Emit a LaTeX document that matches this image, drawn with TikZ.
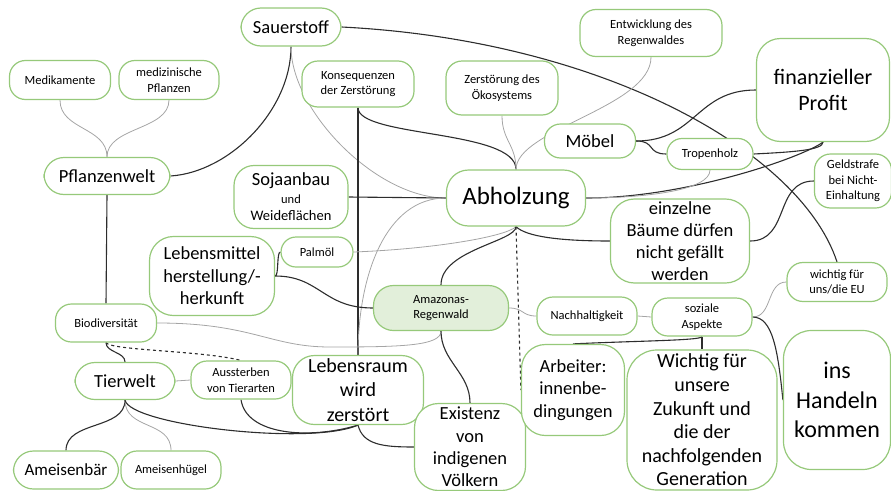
\documentclass[tikz,border=0pt]{standalone}
\usepackage{fontspec}
\setmainfont{Carlito}
\usetikzlibrary{backgrounds}

\definecolor{kgruen}{RGB}{150,201,122}
\definecolor{kfuell}{RGB}{226,239,218}
\definecolor{klinie}{RGB}{45,45,45}
\definecolor{kgrau}{RGB}{165,165,165}

\begin{document}
\begin{tikzpicture}[x=1pt, y=-1pt,
	blase/.style = {draw=kgruen, line width=1.2pt, fill=white, rounded corners=16pt, align=center, inner sep=1pt},
	klein/.style = {blase, font=\fontsize{12.5}{15.5}\selectfont},
	mittel/.style = {blase, rounded corners=20pt, font=\fontsize{18.5}{22.4}\selectfont},
	haupt/.style = {draw=klinie, line width=1.1pt},
	neben/.style = {draw=kgrau, line width=0.8pt},
	wh/.style 2 args = {minimum width=#1pt, minimum height=#2pt}]

	\useasboundingbox (0,0) rectangle (891,490);

	% obere Reihe
	\node[mittel, wh={100}{38}] (sauer) at (291,27) {Sauerstoff};
	\node[klein, wh={101}{39}] (medik) at (60,80) {Medikamente};
	\node[klein, wh={100}{39}] (medpfl) at (169,80) {medizinische\\Pflanzen};
	\node[mittel, wh={126}{37}] (pflanz) at (107,176) {Pflanzenwelt};
	\node[klein, wh={112}{46}] (konseq) at (358,84) {Konsequenzen\\der Zerstörung};
	\node[klein, wh={112}{54}] (oeko) at (502,88) {Zerstörung des\\Ökosystems};
	\node[klein, wh={142}{47}] (entw) at (651,33) {Entwicklung des\\Regenwaldes};
	\node[mittel, wh={133}{103}, font=\fontsize{22}{26.8}\selectfont, rounded corners=24pt] (profit) at (823,90) {finanzieller\\Profit};
	\node[mittel, wh={91}{34}, rounded corners=16pt] (moebel) at (590,141) {Möbel};
	\node[klein, wh={86}{31}, rounded corners=15pt] (tropen) at (710,154) {Tropenholz};
	\node[klein, wh={77}{54}] (geld) at (853,181) {Geldstrafe\\bei Nicht-\\Einhaltung};

	% Mitte
	\node[mittel, wh={114}{63}, font=\fontsize{14.5}{17.5}\selectfont] (soja) at (291,197) {{\fontsize{18.5}{22}\selectfont Sojaanbau}\\{\fontsize{12.5}{14}\selectfont und}\\Weideflächen};
	\node[mittel, wh={139}{56}, font=\fontsize{25}{30}\selectfont, rounded corners=22pt] (abholz) at (516,198) {Abholzung};
	\node[mittel, wh={139}{84}, font=\fontsize{18.5}{22}\selectfont, rounded corners=24pt] (baeume) at (680,241) {einzelne\\Bäume dürfen\\nicht gefällt\\werden};
	\node[mittel, wh={125}{79}, rounded corners=24pt] (lebensm) at (212,276) {Lebensmittel\\herstellung/-\\herkunft};
	\node[klein, wh={72}{30}, rounded corners=15pt] (palm) at (317,252) {Palmöl};
	\node[klein, wh={135}{45}, fill=kfuell, rounded corners=20pt] (amazon) at (441,308) {Amazonas-\\Regenwald};
	\node[klein, wh={100}{38}] (nachh) at (587,316) {Nachhaltigkeit};
	\node[klein, wh={100}{38}] (sozial) at (702,317) {soziale\\Aspekte};
	\node[klein, wh={100}{39}] (eu) at (837,282) {wichtig für\\uns/die EU};
	\node[klein, wh={101}{38}] (biodiv) at (106,323) {Biodiversität};

	% untere Reihe
	\node[mittel, wh={100}{37}] (tierw) at (125,381) {Tierwelt};
	\node[klein, wh={100}{38}] (ausst) at (241,380) {Aussterben\\von Tierarten};
	\node[mittel, wh={131}{69}, font=\fontsize{20}{24.4}\selectfont, rounded corners=22pt] (lebensr) at (358,390) {Lebensraum\\wird\\zerstört};
	\node[mittel, wh={111}{87}, rounded corners=24pt] (exist) at (470,447) {Existenz\\von\\indigenen\\Völkern};
	\node[mittel, wh={103}{91}, rounded corners=24pt] (arbeit) at (573,390) {Arbeiter:\\innenbe-\\dingungen};
	\node[mittel, wh={150}{140}, font=\fontsize{20}{23.6}\selectfont, rounded corners=30pt] (wichtig) at (702,420) {Wichtig für\\unsere\\Zukunft und\\die der\\nachfolgenden\\Generation};
	\node[mittel, wh={107}{139}, font=\fontsize{24}{29.3}\selectfont, rounded corners=28pt] (handeln) at (837,400) {ins\\Handeln\\kommen};
	\node[mittel, wh={105}{38}, font=\fontsize{17}{20}\selectfont] (baer) at (66,470) {Ameisenbär};
	\node[klein, wh={100}{38}] (huegel) at (171,470) {Ameisenhügel};

	\begin{scope}[on background layer]
	\draw[neben] (medik.south) .. controls +(0,30) and +(0,-30) .. (pflanz.north);
	\draw[neben] (medpfl.south) .. controls +(0,30) and +(0,-30) .. (pflanz.north);
	\draw[haupt] (pflanz.east) .. controls (230,172) and (291,110) .. (sauer.south);
	\draw[haupt] (pflanz.south) -- (biodiv.north);
	\draw[neben] (sauer.south) .. controls +(0,64) and +(-70,0) .. (abholz.west);
	\draw[haupt] (sauer.east) .. controls (600,40) and (800,150) .. (eu.north);
	\draw[haupt] (konseq.south) -- (lebensr.north);
	\draw[haupt] (konseq.south) .. controls +(0,30) and +(0,-40) .. (abholz.north);
	\draw[neben] (oeko.south) .. controls +(0,25) and +(0,-25) .. (abholz.north);
	\draw[neben] (entw.south) .. controls +(0,50) and +(0,-40) .. (abholz.north);
	\draw[haupt] (moebel.east) .. controls +(60,0) and +(-60,0) .. (profit.west);
	\draw[haupt] (moebel.east) .. controls +(20,0) and +(-20,0) .. (tropen.west);
	\draw[haupt] (tropen.east) .. controls +(40,-2) and +(0,8) .. (profit.south);
	\draw[haupt] (abholz.east) .. controls +(100,0) and +(-20,15) .. (profit.south);
	\draw[neben] (tropen.south) .. controls +(0,20) and +(60,0) .. (abholz.east);
	\draw[haupt] (soja.east) -- (abholz.west);
	\draw[haupt] (abholz.south) .. controls +(10,10) and +(-50,0) .. (baeume.west);
	\draw[haupt] (baeume.east) .. controls +(40,0) and +(-40,0) .. (geld.west);
	\draw[neben] (palm.east) .. controls +(80,-3) and +(-10,10) .. (abholz.south);
	\draw[neben] (abholz.west) .. controls +(-60,0) and +(0,-80) .. (lebensr.north);
	\draw[haupt] (abholz.south) .. controls +(0,15) and +(0,-35) .. (amazon.north);
	\draw[haupt, dashed] (abholz.south) -- (arbeit.west);
	\draw[haupt] (lebensm.east) .. controls +(45,0) and +(-50,0) .. (amazon.west);
	\draw[haupt] (lebensm.east) .. controls +(4,0) and +(-4,0) .. (palm.west);
	\draw[neben] (biodiv.east) .. controls +(95,0) and +(-60,0) .. (330,347) .. controls +(70,0) and +(0,15) .. (amazon.south);
	\draw[haupt] (biodiv.south) .. controls +(0,10) and +(0,-10) .. (tierw.north);
	\draw[haupt, dashed] (biodiv.south) .. controls +(5,8) and +(-40,-10) .. (ausst.north);
	\draw[neben] (tierw.east) -- (ausst.west);
	\draw[haupt] (tierw.south) .. controls +(0,30) and +(0,-30) .. (baer.north);
	\draw[neben] (tierw.south) .. controls +(0,30) and +(0,-30) .. (huegel.north);
	\draw[haupt] (tierw.south) .. controls +(5,25) and +(-48,21) .. (lebensr.south);
	\draw[haupt] (ausst.south) .. controls +(5,35) and +(-50,15) .. (lebensr.south);
	\draw[haupt] (lebensr.south) .. controls +(5,20) and +(-30,0) .. (exist.west);
	\draw[haupt] (amazon.south) .. controls +(0,30) and +(0,-30) .. (exist.north);
	\draw[neben] (amazon.east) .. controls +(15,0) and +(-15,0) .. (nachh.west);
	\draw[neben] (nachh.east) -- (sozial.west);
	\draw[haupt] (sozial.south) .. controls +(0,4) and +(60,-3) .. (arbeit.north);
	\draw[haupt] (sozial.south) -- (wichtig.north);
	\draw[neben] (sozial.east) .. controls +(20,0) and +(-20,0) .. (eu.west);
	\draw[haupt] (sozial.east) .. controls +(20,0) and +(-5,-50) .. (handeln.west);
	\end{scope}
\end{tikzpicture}
\end{document}
